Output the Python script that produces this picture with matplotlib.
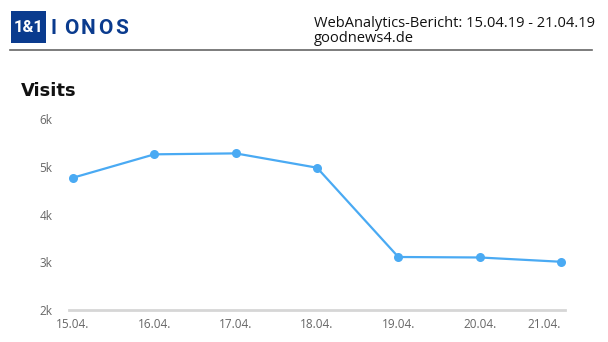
import matplotlib
matplotlib.use("Agg")
import matplotlib.pyplot as plt
from matplotlib.patches import Rectangle
from matplotlib.lines import Line2D

# Data
dates = ["15.04.", "16.04.", "17.04.", "18.04.", "19.04.", "20.04.", "21.04."]
visits = [4770, 5260, 5280, 4980, 3110, 3100, 3010]
yticks = [2000, 3000, 4000, 5000, 6000]
ytick_labels = ["2k", "3k", "4k", "5k", "6k"]

W, H = 608, 342
fig = plt.figure(figsize=(W / 100, H / 100), dpi=100)

def fx(px):
    return px / W

def fy(py):
    return 1 - py / H

# Header
blue = "#0a3b8e"
fig.patches.append(Rectangle((fx(11), fy(43)), fx(46) - fx(11), fy(11) - fy(43),
                             transform=fig.transFigure, facecolor=blue, edgecolor="none"))
fig.text(fx(28.5), fy(27.5), "1&1", color="white", fontsize=12, fontweight="bold",
         family="Roboto", ha="center", va="center")
for ch, cx in zip("IONOS", [54, 71, 88, 105, 122]):
    fig.text(fx(cx), fy(34), ch, color=blue, fontsize=15, family="Roboto",
             fontweight="semibold", ha="center", va="baseline")
fig.lines.append(Line2D([fx(10), fx(592)], [fy(49.5), fy(49.5)], transform=fig.transFigure,
                        color="#666666", linewidth=1.2))
fig.text(fx(314), fy(27), "WebAnalytics-Bericht: 15.04.19 - 21.04.19", fontsize=10.5,
         family="Open Sans", color="#111111", ha="left", va="baseline")
fig.text(fx(314), fy(42), "goodnews4.de", fontsize=10.5, family="Open Sans",
         color="#111111", ha="left", va="baseline")

fig.text(fx(21), fy(96.5), "Visits", fontsize=13, fontweight="bold", family="DejaVu Sans",
         color="#111111", ha="left", va="baseline")

# Axes
ax = fig.add_axes([fx(69), 1 - 310 / H, (565 - 69) / W, (310 - 119) / H])
x = list(range(len(dates)))
ax.plot(x, visits, color="#4aaaf3", linewidth=1.6, marker="o", markersize=6.5,
        markeredgewidth=0, solid_capstyle="round")
ax.set_xlim(-0.049, 6.049)
ax.set_ylim(2000, 6000)
ax.set_yticks(yticks)
ax.set_yticklabels(ytick_labels)
ax.set_xticks(x)
ax.set_xticklabels(dates)
labels = ax.get_xticklabels()
labels[-1].set_horizontalalignment("right")
labels[-1].set_x(6.04)
for s in ["top", "right", "left"]:
    ax.spines[s].set_visible(False)
ax.spines["bottom"].set_color("#d6d6d6")
ax.spines["bottom"].set_linewidth(2)
ax.tick_params(axis="both", length=0, labelsize=8.5, labelcolor="#666666")
ax.tick_params(axis="y", pad=12)
ax.tick_params(axis="x", pad=6)
for t in ax.get_xticklabels() + ax.get_yticklabels():
    t.set_family("Open Sans")

fig.savefig("out.png", dpi=100)
